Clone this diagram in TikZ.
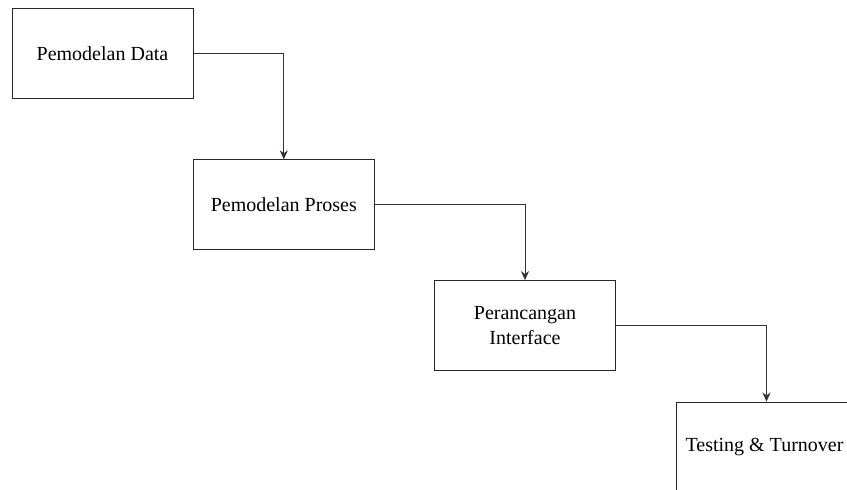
\documentclass[tikz,border=0pt]{standalone}
\usepackage{fontspec}
\setmainfont{Liberation Serif}
\usetikzlibrary{arrows.meta}
\begin{document}
\begin{tikzpicture}[x=1pt,y=-1pt,
  stagebox/.style={draw=black!85, line width=0.9pt, minimum width=181pt, minimum height=90pt, inner sep=0pt, align=center, font=\fontsize{20}{25}\selectfont},
  flowarrow/.style={draw=black!80, line width=0.9pt, -{Stealth[length=9pt,width=8pt]}}]
\useasboundingbox (0,0) rectangle (847,490);
\clip (0,0) rectangle (847,490);
\node[stagebox] (b1) at (102.5,53.3) {Pemodelan Data};
\node[stagebox] (b2) at (283.8,204.8) {Pemodelan Proses};
\node[stagebox] (b3) at (525,325.6) {Perancangan\\Interface};
\node[stagebox] (b4) at (766.5,447) {\hspace*{-4pt}Testing \& Turnover};
\draw[flowarrow] (b1.east) -| (b2.north);
\draw[flowarrow] (b2.east) -| (b3.north);
\draw[flowarrow] (b3.east) -| (b4.north);
\end{tikzpicture}
\end{document}
